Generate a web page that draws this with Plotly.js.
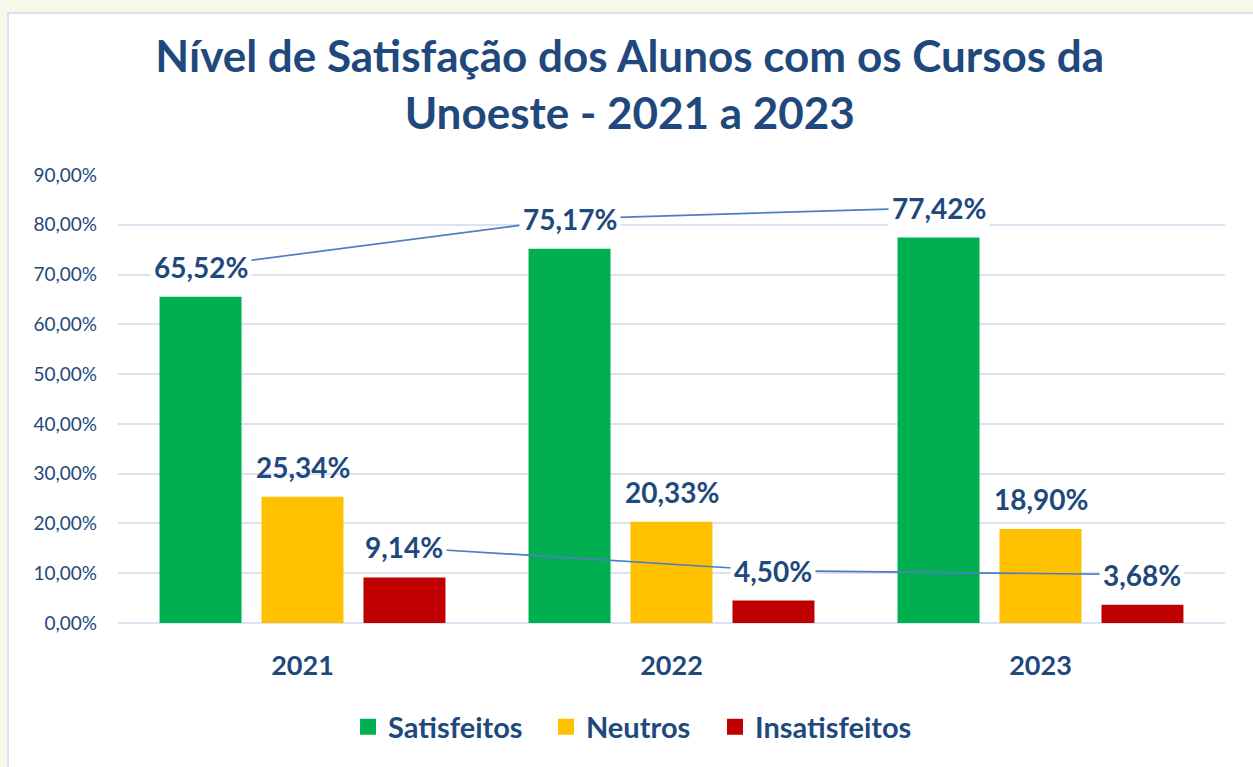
<!DOCTYPE html>
<html>
<head>
<meta charset="utf-8">
<script src="https://cdn.plot.ly/plotly-3.0.1.min.js"></script>
<style>
  html, body { margin: 0; padding: 0; width: 1253px; height: 767px; overflow: hidden; background: #f6f9e8; }
  #frame { position: absolute; left: 7px; top: 12px; width: 1246px; height: 755px; background: #ffffff;
           border-left: 2px solid #d5e2f0; border-top: 2px solid #d5e2f0; box-sizing: border-box; }
  #chart { width: 1244px; height: 753px; }
</style>
</head>
<body>
<div id="frame"><div id="chart"></div></div>
<script>
const years = ['2021', '2022', '2023'];
const seriesNames = ['Satisfeitos', 'Neutros', 'Insatisfeitos'];
const satisfeitos = [65.52, 75.17, 77.42];
const neutros = [25.34, 20.33, 18.90];
const insatisfeitos = [9.14, 4.50, 3.68];
const tickVals = [0, 10, 20, 30, 40, 50, 60, 70, 80, 90];

const colors = ['#00B050', '#FFC000', '#C00000'];
const textColor = '#1F497D';
const font = 'Lato, "Open Sans", sans-serif';
const bargap = 0.171;
const slot = (1 - bargap) / 3;   // offset of side bars in category units
const labelOffset = 6.03;         // label height above bar top, in axis units
const legendX = [0.2078, 0.3866, 0.5393];
const legendIds = ['legend', 'legend2', 'legend3'];

const values = [satisfeitos, neutros, insatisfeitos];
const idx = years.map((_, i) => i);
const fmt = v => v.toFixed(2).replace('.', ',') + '%';

const traces = values.map((v, s) => ({
  type: 'bar', name: seriesNames[s], x: years, y: v,
  marker: { color: colors[s] }, hoverinfo: 'skip', showlegend: false
}));

// legend entries with larger square keys
seriesNames.forEach((n, s) => traces.push({
  type: 'scatter', mode: 'markers', name: n, x: [null], y: [null], legend: legendIds[s],
  marker: { symbol: 'square', size: 16, color: colors[s] }, hoverinfo: 'skip'
}));

// connector lines through the labels of the first and last series
traces.push({
  type: 'scatter', mode: 'lines', x: idx, y: satisfeitos, xaxis: 'x2', yaxis: 'y2',
  line: { color: '#4F7EC0', width: 1.7 }, showlegend: false, hoverinfo: 'skip'
});
traces.push({
  type: 'scatter', mode: 'lines', x: idx, y: insatisfeitos, xaxis: 'x3', yaxis: 'y2',
  line: { color: '#4F7EC0', width: 1.7 }, showlegend: false, hoverinfo: 'skip'
});

const annotations = [];
values.forEach((v, s) => {
  v.forEach((val, i) => {
    annotations.push({
      xref: s === 0 ? 'x2' : (s === 2 ? 'x3' : 'x'),
      yref: 'y2',
      x: i,
      y: val,
      text: fmt(val),
      showarrow: false,
      yanchor: 'middle', xanchor: 'center',
      bgcolor: s === 1 ? 'rgba(0,0,0,0)' : '#ffffff',
      borderpad: 3,
      font: { family: font, size: 28, color: textColor, weight: 'bold' }
    });
  });
});

const layout = {
  width: 1244, height: 753,
  margin: { l: 109, r: 28, t: 161, b: 144 },
  paper_bgcolor: '#ffffff', plot_bgcolor: '#ffffff',
  separators: ',.',
  barmode: 'group', bargap: bargap, bargroupgap: 0.196,
  title: {
    text: 'Nível de Satisfação dos Alunos com os Cursos da<br>Unoeste - 2021 a 2023',
    x: 0.499, xanchor: 'center', yref: 'container', y: 1 - 58 / 753, yanchor: 'top',
    font: { family: font, size: 44, color: textColor, weight: 'bold' }
  },
  xaxis: {
    type: 'category', showgrid: false, zeroline: false, showline: false, ticks: '',
    tickfont: { family: font, size: 27, color: textColor, weight: 'bold' },
    ticklabelstandoff: 24
  },
  xaxis2: { overlaying: 'x', type: 'linear', range: [-0.5 + slot, 2.5 + slot], visible: false },
  xaxis3: { overlaying: 'x', type: 'linear', range: [-0.5 - slot, 2.5 - slot], visible: false },
  yaxis: {
    range: [0, 90], tickmode: 'array', tickvals: tickVals, ticktext: tickVals.map(fmt),
    showgrid: true, gridcolor: '#D9E3F1', gridwidth: 2,
    zeroline: true, zerolinecolor: '#D9E3F1', zerolinewidth: 2, showline: false, ticks: '',
    tickfont: { family: font, size: 19, color: textColor }, ticklabelstandoff: 20
  },
  yaxis2: { overlaying: 'y', range: [-labelOffset, 90 - labelOffset], visible: false },
  annotations: annotations,
  showlegend: true
};

legendIds.forEach((id, s) => {
  layout[id] = {
    orientation: 'h', x: legendX[s], xanchor: 'left', yref: 'container', y: 1 - 713 / 753, yanchor: 'middle',
    font: { family: font, size: 29, color: textColor, weight: 'bold' }, itemwidth: 30,
    bgcolor: 'rgba(0,0,0,0)'
  };
});

Plotly.newPlot('chart', traces, layout, { displayModeBar: false, staticPlot: true });
</script>
</body>
</html>
